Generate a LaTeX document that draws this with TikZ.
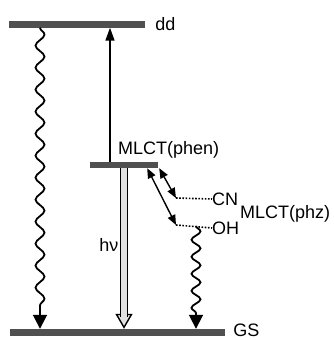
\documentclass[tikz,border=0pt]{standalone}
\usepackage{fontspec}
\setmainfont{Liberation Sans}
\usetikzlibrary{arrows.meta,positioning,decorations.pathmorphing}
\definecolor{bargray}{RGB}{80,80,80}
\definecolor{hvfill}{RGB}{225,225,225}

\begin{document}
\begin{tikzpicture}[
    x=1pt, y=-1pt,
    level/.style={rectangle, fill=bargray, inner sep=0pt, minimum height=7pt},
    lbl/.style={font=\fontsize{18}{20}\selectfont, inner sep=0pt},
    wavy/.style={-{Triangle[width=14pt,length=14pt]}, line width=1.8pt, decorate,
        decoration={snake, amplitude=4.5pt, segment length=#1, post length=14pt}},
    wavy/.default=22pt,
    uparrow/.style={-{Triangle[width=9pt,length=13pt]}, line width=1.6pt},
    hvtip/.style={-{Triangle[fill=hvfill, width=17pt, length=15pt]}, line width=1.4pt},
    hvshaft/.style={double=hvfill, double distance=6pt, line width=1.4pt, shorten >=12pt},
    ctarrow/.style={{Triangle[width=8pt,length=10pt]}-{Triangle[width=8pt,length=10pt]}, line width=1.4pt},
    dotline/.style={line width=1.6pt, dash pattern=on 1.6pt off 1.6pt}
]
    \useasboundingbox (0,0) rectangle (334,340);

    % levels
    \node[level, minimum width=136pt] (dd) at (77,24) {};
    \node[level, minimum width=68pt, minimum height=6pt] (mlct) at (124,165) {};
    \node[level, minimum width=215pt] (gs) at (117.5,332.5) {};

    \node[lbl, right=10pt of dd] (ddlbl) {dd};
    \node[lbl, right=8pt of gs, yshift=2pt] (gslbl) {GS};
    \node[lbl, anchor=west] (phen) at (118,150) {MLCT(phen)};
    \node[lbl, anchor=west] (cn) at (212,199) {CN};
    \node[lbl, anchor=west] (phz) at (240,214) {MLCT(phz)};
    \node[lbl, anchor=west] (oh) at (212,228) {OH};

    \coordinate (cnl) at (176,198);
    \coordinate (ohl) at (176,225);
    \coordinate (ohdrop) at (196,226);

    % transitions
    \draw[wavy] ([xshift=-37pt]dd.south) -- ([xshift=-37pt]dd.south |- gs.north);
    \draw[uparrow] ([xshift=-14pt]mlct.north) -- ([xshift=-14pt]mlct.north |- dd.south);
    \draw[hvtip] (mlct.south) -- (mlct.south |- gs.north);
    \draw[hvshaft] (mlct.south) -- node[lbl, left=5pt, pos=0.48] (hv) {hν} (mlct.south |- gs.north);

    \draw[ctarrow] ([xshift=1pt]mlct.south east) -- (cnl);
    \draw[ctarrow] ([xshift=-11pt]mlct.south east) -- (ohl);
    \draw[dotline] (cnl) -- (cn.west);
    \draw[dotline] (ohl) -- (oh.west);
    \draw[wavy=17pt] (ohdrop) -- (ohdrop |- gs.north);
\end{tikzpicture}
\end{document}
